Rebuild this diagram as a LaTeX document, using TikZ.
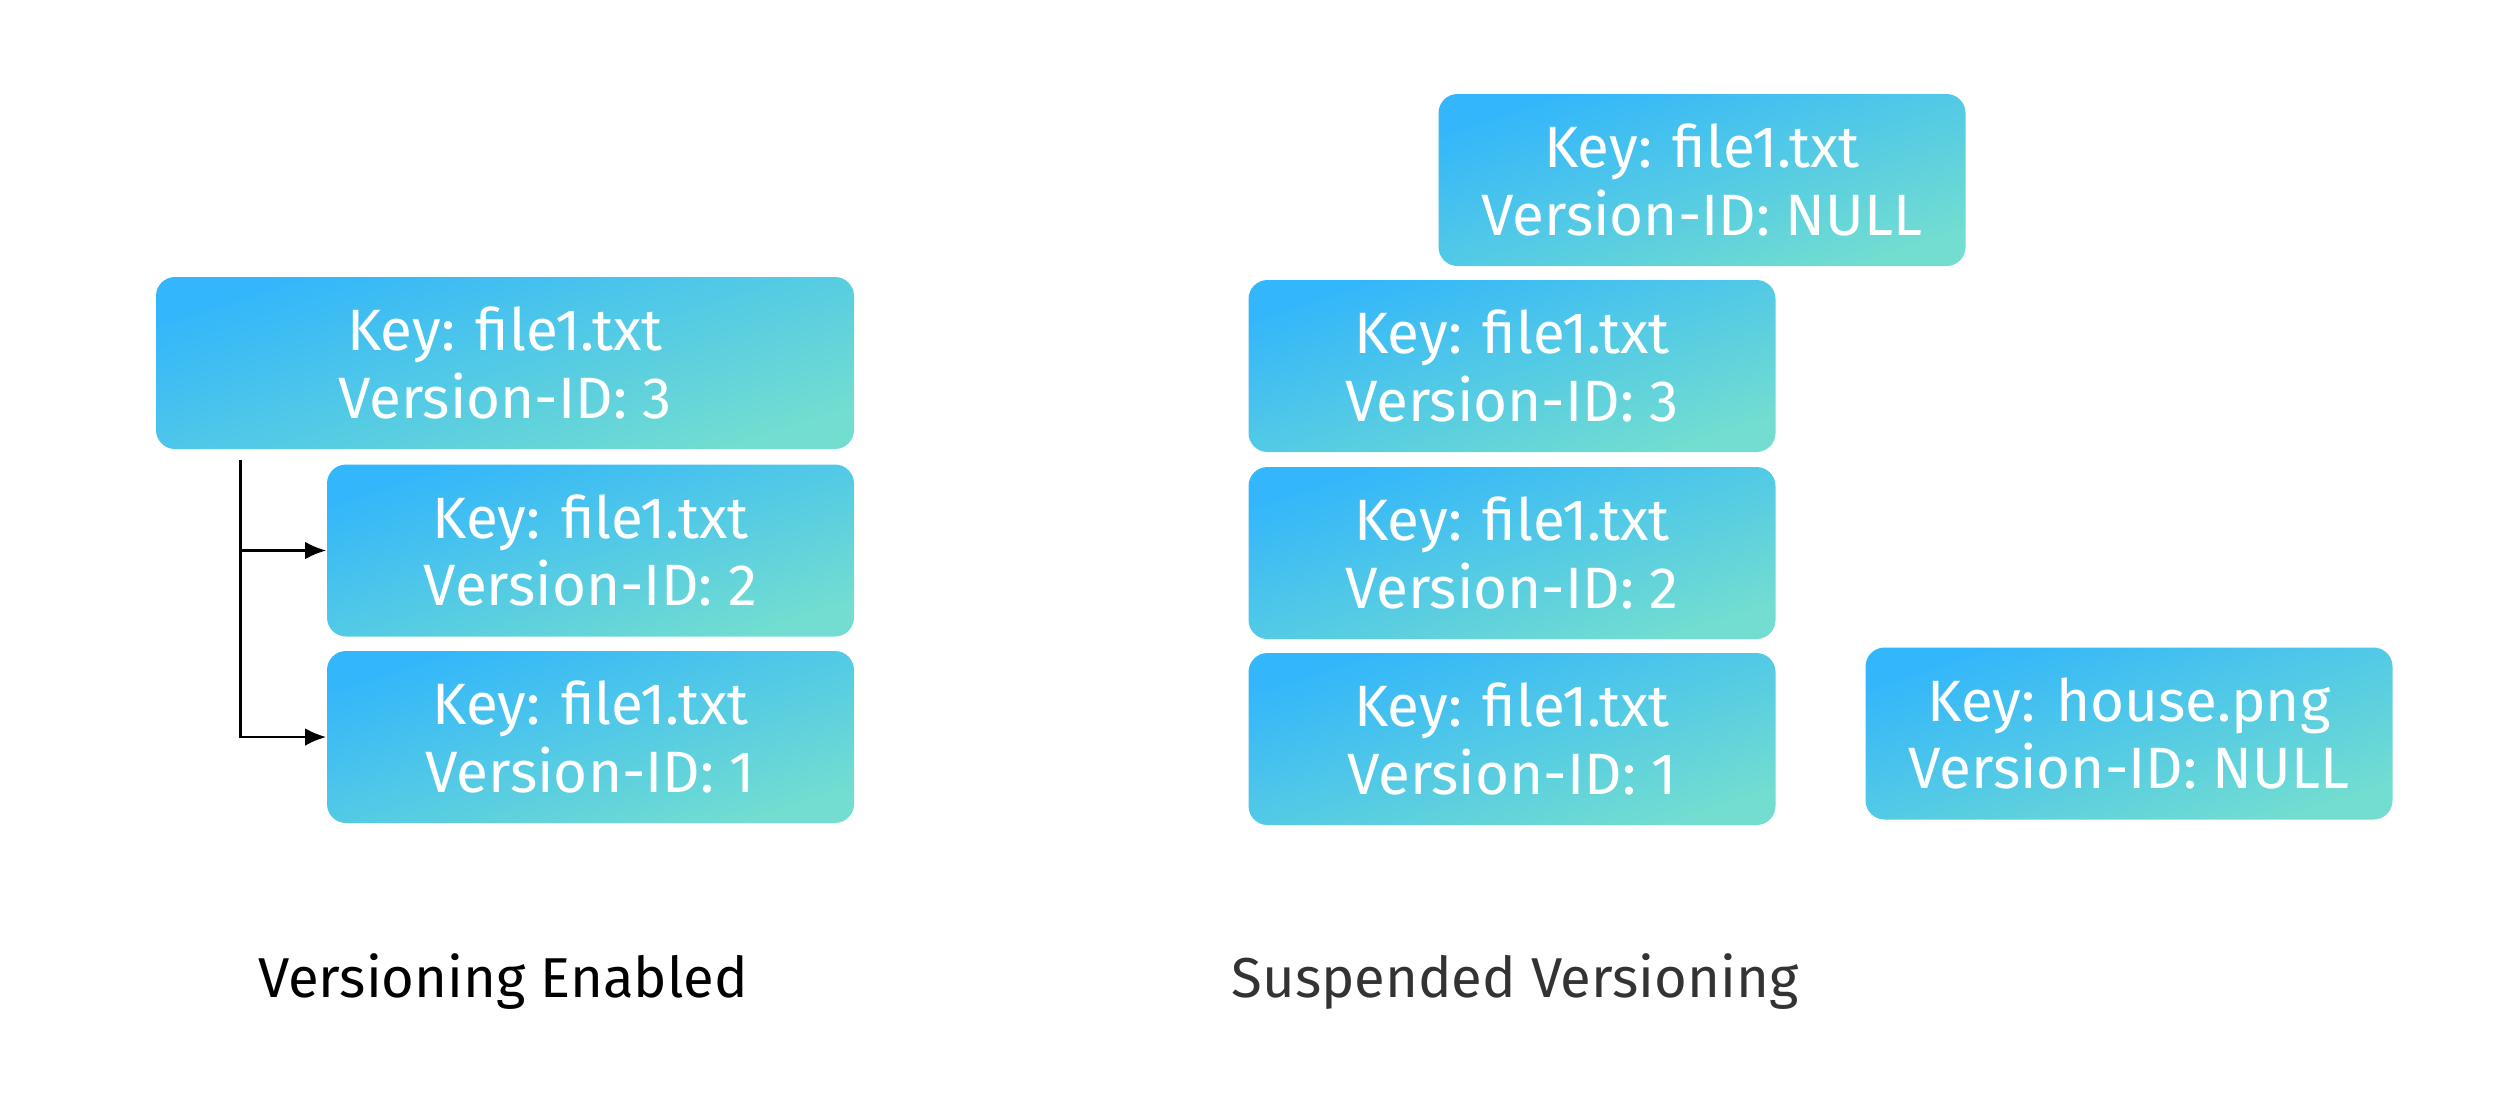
\documentclass[tikz,border=0pt]{standalone}
\usepackage{fontspec}
\setmainfont{Fira Sans}
\usetikzlibrary{positioning,arrows.meta}
\definecolor{boxblue}{HTML}{33B6FB}
\definecolor{boxteal}{HTML}{72DDD0}
\definecolor{capgray}{HTML}{333333}
\tikzset{
  objbox/.style={rounded corners=0.19cm, top color=boxblue, bottom color=boxteal,
    shading angle=18, draw=none, text=white, align=center, inner sep=0pt,
    minimum width=5.27cm, minimum height=1.72cm, font=\fontsize{16.6}{19.2}\selectfont},
  caption/.style={font=\fontsize{16}{19}\selectfont}
}
\begin{document}
\begin{tikzpicture}
\useasboundingbox (0,0) rectangle (24.98,-11.16);

% Versioning enabled: newest version on top, older ones below
\node[objbox, minimum width=6.98cm] (v3) at (5.05,-3.63) {Key: file1.txt\\Version-ID: 3};
\node[objbox] (v2) at (5.905,-5.505) {Key: file1.txt\\Version-ID: 2};
\node[objbox] (v1) at (5.905,-7.37) {Key: file1.txt\\Version-ID: 1};

% Links from the current version to the older ones
\coordinate (trunk) at ([xshift=0.85cm, yshift=-0.1cm]v3.south west);
\draw[line width=0.8pt, -{Latex[length=6pt, width=5pt]}] (trunk) |- (v2.west);
\draw[line width=0.8pt, -{Latex[length=6pt, width=5pt]}] (trunk) |- (v1.west);

\node[caption] (enabled) at (5.03,-9.82) {Versioning Enabled};

% Suspended versioning: old versions kept, new uploads get NULL
\foreach \i/\y in {3/-3.66, 2/-5.53, 1/-7.39} {
    \node[objbox] (s\i) at (15.12,\y) {Key: file1.txt\\Version-ID: \i};
}
\node[objbox] (snull) at (17.02,-1.80) {Key: file1.txt\\Version-ID: NULL};
\node[objbox] (house) at (21.29,-7.335) {Key: house.png\\Version-ID: NULL};

\node[caption, text=capgray] (suspended) at (15.15,-9.82) {Suspended Versioning};

\end{tikzpicture}
\end{document}
